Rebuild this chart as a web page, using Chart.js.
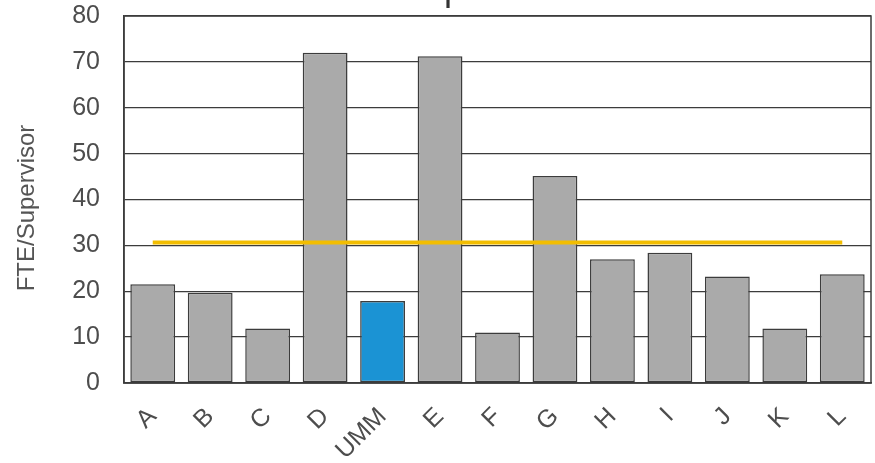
<!DOCTYPE html>
<html>
<head>
<meta charset="utf-8">
<script src="https://cdn.jsdelivr.net/npm/chart.js@4.4.1/dist/chart.umd.min.js"></script>
<style>
  html, body { margin: 0; padding: 0; background: #ffffff; overflow: hidden; }
  #chart { display: block; }
</style>
</head>
<body>
<canvas id="chart" width="875" height="463"></canvas>
<script>
// Staff per supervisor, by institution
const categories = ['A', 'B', 'C', 'D', 'UMM', 'E', 'F', 'G', 'H', 'I', 'J', 'K', 'L'];
const fteValues = [21.5, 19.7, 11.9, 72.0, 17.9, 71.2, 11.0, 45.1, 27.0, 28.4, 23.2, 11.9, 23.7];
const benchmark = 30.6;
const benchmarkValues = categories.map(() => benchmark);
const yTicks = [0, 10, 20, 30, 40, 50, 60, 70, 80];
const chartTitle = 'Custodial Supervision';
const yAxisTitle = 'FTE/Supervisor';
const highlight = 'UMM';

const GRAY = '#aaaaaa';
const BLUE = '#1b93d4';
const EDGE = '#3c3c3c';
const TEXT = '#4d4d4d';
const FONT = "'Liberation Sans', Arial, sans-serif";

// Chart title runs off the top edge; the rotated axis title sits a little below centre.
const titles = {
  id: 'titles',
  afterDraw(chart) {
    const ctx = chart.ctx;
    ctx.save();
    ctx.font = '36px ' + FONT;
    ctx.fillStyle = '#333333';
    ctx.textAlign = 'center';
    ctx.textBaseline = 'alphabetic';
    ctx.fillText(chartTitle, 414, 0);

    ctx.translate(27, 208);
    ctx.rotate(-Math.PI / 2);
    ctx.font = '24px ' + FONT;
    ctx.fillStyle = '#555555';
    ctx.textBaseline = 'middle';
    ctx.fillText(yAxisTitle, 0, 0);
    ctx.restore();
  }
};

// Box around the plotting area
const frame = {
  id: 'frame',
  beforeDatasetsDraw(chart) {
    const a = chart.chartArea;
    const ctx = chart.ctx;
    ctx.save();
    ctx.strokeStyle = EDGE;
    ctx.lineWidth = 1.5;
    ctx.strokeRect(a.left, a.top, a.right - a.left, a.bottom - a.top);
    ctx.restore();
  }
};

new Chart(document.getElementById('chart'), {
  data: {
    labels: categories,
    datasets: [
      {
        type: 'line',
        data: benchmarkValues,
        borderColor: '#f2bd00',
        borderWidth: 4,
        pointRadius: 0,
        tension: 0,
        order: 0
      },
      {
        type: 'bar',
        data: fteValues,
        backgroundColor: categories.map(c => c === highlight ? BLUE : GRAY),
        borderColor: EDGE,
        borderWidth: 1.5,
        borderSkipped: false,
        barPercentage: 0.78,
        categoryPercentage: 1.0,
        order: 1
      }
    ]
  },
  options: {
    responsive: false,
    animation: false,
    layout: { padding: 0 },
    plugins: {
      legend: { display: false },
      tooltip: { enabled: false },
      title: { display: false }
    },
    scales: {
      x: {
        grid: { display: false, drawTicks: false },
        border: { color: EDGE, width: 1.5 },
        ticks: {
          color: TEXT,
          font: { family: FONT, size: 25 },
          minRotation: 45,
          maxRotation: 45,
          padding: 19
        },
        afterFit(scale) {
          scale.height = 80;
          scale.paddingLeft = 0;
          scale.paddingRight = 4;
        }
      },
      y: {
        min: 0,
        max: 80,
        afterBuildTicks(axis) { axis.ticks = yTicks.map(v => ({ value: v })); },
        grid: { color: EDGE, lineWidth: 1.3, drawTicks: false },
        border: { color: EDGE, width: 1.5 },
        ticks: {
          color: TEXT,
          font: { family: FONT, size: 25 },
          padding: 24
        },
        afterFit(scale) {
          scale.width = 124;
          scale.paddingTop = 16;
          scale.paddingBottom = 0;
        }
      }
    }
  },
  plugins: [frame, titles]
});
</script>
</body>
</html>
